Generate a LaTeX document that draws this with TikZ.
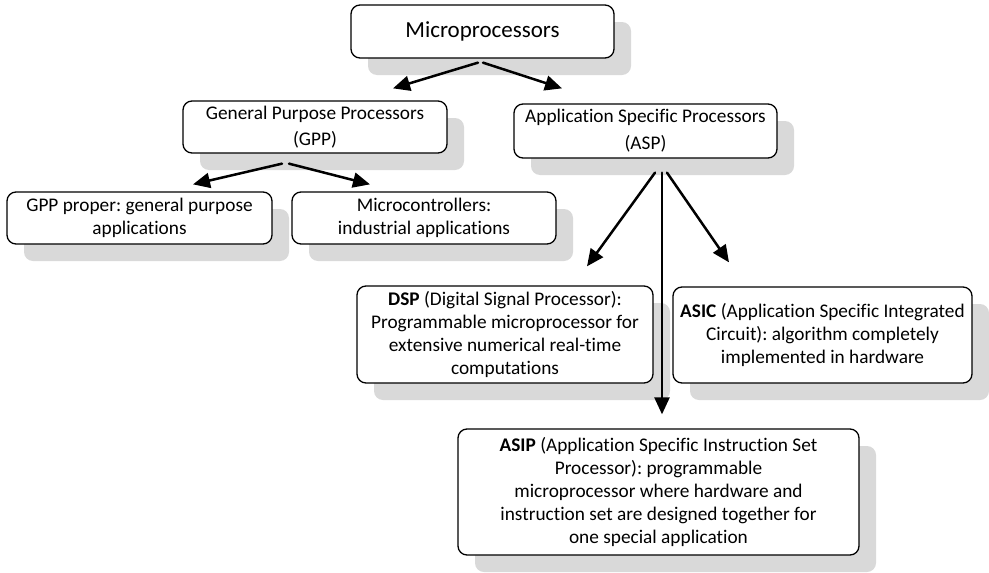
\documentclass[tikz,border=0pt]{standalone}
\usepackage{fontspec}
\setmainfont{Carlito}[Ligatures=NoCommon]
\frenchspacing
\usetikzlibrary{arrows.meta,shadows}

\begin{document}
\begin{tikzpicture}[x=1pt, y=-1pt, line join=round, line cap=round,
    box/.style={draw=black, line width=1.3pt, rounded corners=9pt, fill=white,
      align=center, inner sep=0pt,
      drop shadow={shadow xshift=17pt, shadow yshift=-17pt, fill=black!15, opacity=1},
      font=\fontsize{19.3}{23}\selectfont},
    arr/.style={line width=2.5pt, -{Triangle[length=17pt,width=15pt]}}]
  \useasboundingbox (0,0) rectangle (989,573);

  \node[box, minimum width=263, minimum height=53,
    font=\fontsize{23}{28}\selectfont] (micro) at (482.5,31.5) {Microprocessors};

  \node[box, minimum width=264, minimum height=52,
    font=\fontsize{19.3}{26}\selectfont] (gpp) at (315,127)
    {General Purpose Processors\\(GPP)};
  \node[box, minimum width=263, minimum height=54,
    font=\fontsize{19.3}{27}\selectfont] (asp) at (645.5,131)
    {Application Specific Processors\\(ASP)};

  \node[box, minimum width=265, minimum height=52] (gppp) at (139.5,218)
    {GPP proper: general purpose\\applications};
  \node[box, minimum width=264, minimum height=52] (mcu) at (424,218)
    {Microcontrollers:\\industrial applications};

  \node[box, minimum width=296, minimum height=97] (dsp) at (505,334.5)
    {\textbf{DSP} (Digital Signal Processor):\\Programmable microprocessor for\\
     extensive numerical real-time\\computations};
  \node[box, minimum width=299, minimum height=96] (asic) at (822.5,335)
    {\textbf{ASIC} (Application Specific Integrated\\Circuit): algorithm completely\\
     implemented in hardware};

  \node[box, minimum width=401, minimum height=126] (asip) at (658.5,492)
    {\textbf{ASIP} (Application Specific Instruction Set\\Processor): programmable\\
     microprocessor where hardware and\\instruction set are designed together for\\
     one special application};

  \draw[arr] ([shift={(-4.5,4)}]micro.south) -- ([shift={(78,-12)}]gpp.north);
  \draw[arr] ([shift={(0.5,4)}]micro.south) -- ([shift={(-83.5,-15)}]asp.north);

  \draw[arr] ([shift={(-33,10)}]gpp.south) -- ([shift={(53.5,-7)}]gppp.north);
  \draw[arr] ([shift={(-26,10)}]gpp.south) -- ([shift={(-54,-7)}]mcu.north);

  \draw[arr] ([shift={(9.5,14)}]asp.south) -- ([shift={(82,-19)}]dsp.north);
  \draw[arr] ([shift={(16.5,14)}]asp.south) -- ([shift={(3.5,-14)}]asip.north);
  \draw[arr] ([shift={(21.5,14)}]asp.south) -- ([shift={(-93.5,-24)}]asic.north);
\end{tikzpicture}
\end{document}
